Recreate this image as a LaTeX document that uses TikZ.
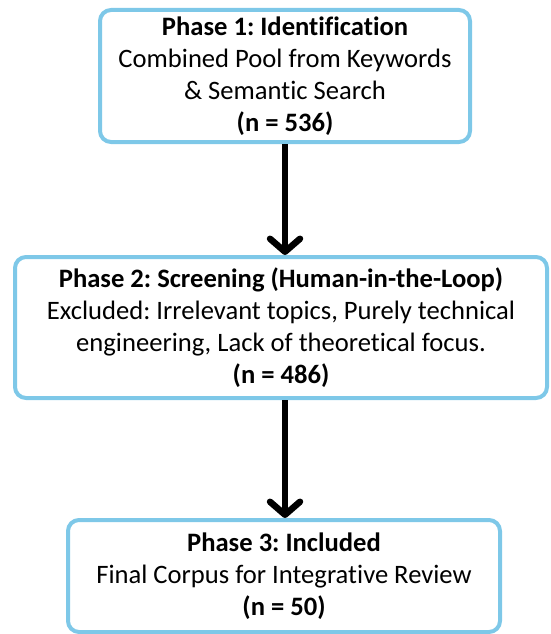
\documentclass[tikz,border=0pt]{standalone}
\usepackage{fontspec}
\setmainfont[RawFeature=-liga]{Carlito}
\usetikzlibrary{arrows.meta}
\definecolor{boxblue}{RGB}{126,200,232}
\tikzset{
  phasebox/.style={draw=boxblue, line width=4pt, rounded corners=11pt, fill=white,
    align=center, inner sep=0pt, font=\fontsize{26.6}{32}\selectfont\frenchspacing},
  flowarrow/.style={line width=6.5pt, draw=black,
    -{Straight Barb[length=13pt, width=30pt, line cap=round, line join=round]}}
}
\begin{document}
\begin{tikzpicture}[x=1pt, y=-1pt]
\useasboundingbox (0,0) rectangle (550,634);
\node[phasebox, minimum width=370pt, minimum height=132pt] (p1) at (285,76)
  {\textbf{Phase 1: Identification}\\Combined Pool from Keywords\\\& Semantic Search\\\textbf{(n = 536)}};
\node[phasebox, minimum width=532pt, minimum height=141pt] (p2) at (281,327.5)
  {\textbf{Phase 2: Screening (Human-in-the-Loop)}\\Excluded: Irrelevant topics, Purely technical\\engineering, Lack of theoretical focus.\\\textbf{(n = 486)}};
\node[phasebox, minimum width=432pt, minimum height=112pt] (p3) at (284,576)
  {\textbf{Phase 3: Included}\\Final Corpus for Integrative Review\\\textbf{(n = 50)}};
\draw[flowarrow] (p1.south) -- (p1.south |- p2.north);
\draw[flowarrow] (p1.south |- p2.south) -- (p1.south |- p3.north);
\end{tikzpicture}
\end{document}
